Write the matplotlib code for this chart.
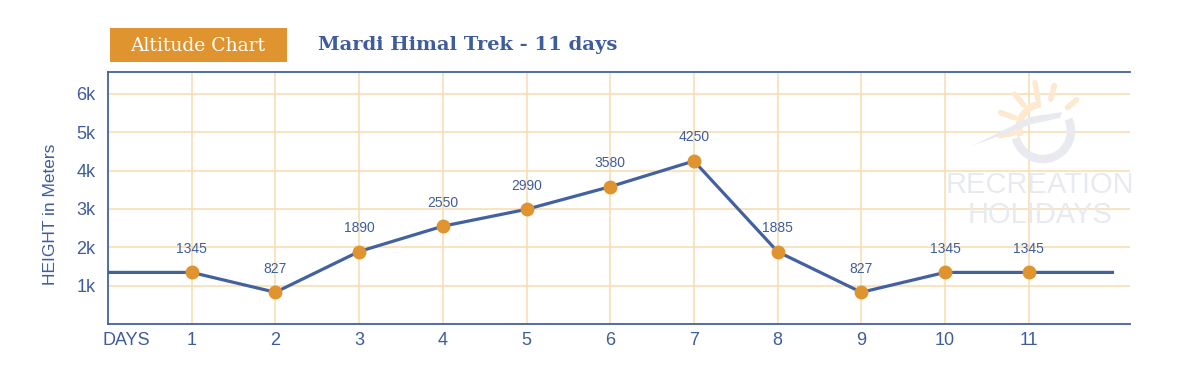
import matplotlib
matplotlib.use("Agg")
import matplotlib.pyplot as plt
import matplotlib.transforms as mtransforms
from matplotlib.patches import Rectangle, Arc, Polygon
import numpy as np

days = [1, 2, 3, 4, 5, 6, 7, 8, 9, 10, 11]
heights = [1345, 827, 1890, 2550, 2990, 3580, 4250, 1885, 827, 1345, 1345]
# line continues flat from the axis start (day 0) to day 12
line_days = [0] + days + [12]
line_heights = [1345] + heights + [1345]
ytick_vals = [1000, 2000, 3000, 4000, 5000, 6000]
ytick_labels = ["1k", "2k", "3k", "4k", "5k", "6k"]
xtick_labels = ["DAYS"] + [str(d) for d in days]

BLUE = "#4361a0"
TXT = "#3f5d9c"
ORANGE = "#e09430"
GRID = "#f6dcae"
WM_GREY = "#e8eaf0"
WM_ORANGE = "#fce9d0"

plt.rcParams['font.family'] = ['Liberation Sans', 'DejaVu Sans']

W, H = 1201, 375
fig = plt.figure(figsize=(W / 100, H / 100), dpi=100)
fig.patch.set_facecolor("white")
ax = fig.add_axes([108 / W, 51 / H, (1130 - 108) / W, (324 - 72) / H])

ax.set_xlim(0, 12.21)
ax.set_ylim(0, 6570)

ax.set_xticks([0] + days)
ax.set_xticklabels(xtick_labels)
ax.set_yticks(ytick_vals)
ax.set_yticklabels(ytick_labels)
ax.tick_params(axis='both', length=0, labelsize=13, labelcolor=TXT)
ax.tick_params(axis='x', pad=6)
ax.tick_params(axis='y', pad=9)
# shift the "DAYS" label to the right like the reference
lbl0 = ax.get_xticklabels()[0]
lbl0.set_transform(lbl0.get_transform() +
                   mtransforms.ScaledTranslation(18 / 100, 0, fig.dpi_scale_trans))

ax.grid(True, color=GRID, linewidth=1.1)
ax.set_axisbelow(True)
ax.get_xgridlines()[0].set_visible(False)

for s in ["left", "bottom", "top"]:
    ax.spines[s].set_color(BLUE)
    ax.spines[s].set_linewidth(1.3)
ax.spines["right"].set_visible(False)

ax.set_ylabel("HEIGHT in Meters", fontsize=12.5, color=TXT)
ax.yaxis.set_label_coords((58 - 108) / 1022, (324 - 214) / 252)

# ---- watermark (pixel coordinates, origin top-left) ----
pix = mtransforms.IdentityTransform()
def P(x, y):
    return (x, H - y)

cx, cy = 1043, 128
fig.patches.append(Arc(P(cx, cy), 48, 48, theta1=95, theta2=200, transform=pix,
                       color=WM_ORANGE, linewidth=5, zorder=0))
for ang, r0, r1 in [(75, 30, 44), (100, 30, 46), (130, 30, 44), (160, 30, 45), (190, 30, 44), (40, 32, 44)]:
    a = np.deg2rad(ang)
    x0, y0 = cx + r0 * np.cos(a), cy - r0 * np.sin(a)
    x1, y1 = cx + r1 * np.cos(a), cy - r1 * np.sin(a)
    fig.lines.append(plt.Line2D([x0, x1], [H - y0, H - y1], transform=pix,
                                color=WM_ORANGE, linewidth=4, solid_capstyle='round', zorder=0))
fig.patches.append(Arc(P(cx, cy + 3), 56, 56, theta1=195, theta2=25, transform=pix,
                       color=WM_GREY, linewidth=6, zorder=0))
fig.patches.append(Polygon([P(972, 146), P(1030, 117), P(1062, 112), P(1060, 118), P(1032, 124)],
                           closed=True, transform=pix, facecolor=WM_GREY, edgecolor="none", zorder=0))
fig.text(1040 / W, 1 - 200 / H, "RECREATION\nHOLIDAYS", ha="center", va="center",
         fontsize=21, color=WM_GREY, linespacing=1.05, zorder=0)

# ---- data ----
ax.plot(line_days, line_heights, color=BLUE, linewidth=2.3, zorder=3)
ax.plot(days, heights, linestyle="none", marker="o", markersize=9,
        color=ORANGE, zorder=4)
for d, h in zip(days, heights):
    ax.annotate(str(h), (d, h), xytext=(0, 12), textcoords="offset points",
                ha="center", va="bottom", fontsize=10, color=TXT, zorder=5)

# ---- header ----
fig.patches.append(Rectangle((110 / W, 1 - 62 / H), 177 / W, 34 / H,
                             transform=fig.transFigure, facecolor=ORANGE,
                             edgecolor="none"))
fig.text(198 / W, 1 - 46 / H, "Altitude Chart", ha="center", va="center",
         fontsize=13.5, color="white", family="DejaVu Serif")
fig.text(318 / W, 1 - 45 / H, "Mardi Himal Trek - 11 days", ha="left", va="center",
         fontsize=14, color=TXT, family="DejaVu Serif", fontweight="bold")

fig.savefig("out.png", dpi=100, facecolor="white")
